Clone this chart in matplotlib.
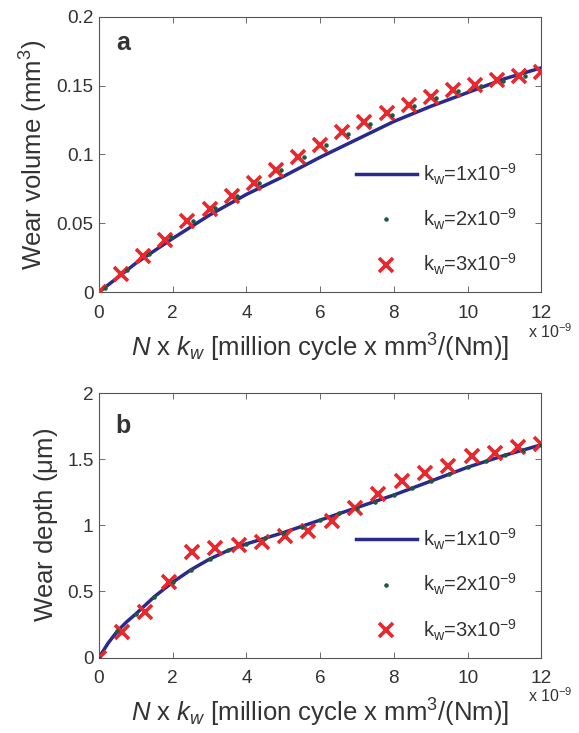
import matplotlib
matplotlib.use("Agg")
import matplotlib.pyplot as plt

plt.rcParams["font.family"] = ["Liberation Sans", "DejaVu Sans"]
plt.rcParams["mathtext.fontset"] = "custom"
plt.rcParams["mathtext.rm"] = "Liberation Sans"
plt.rcParams["mathtext.it"] = "Liberation Sans:italic"
plt.rcParams["mathtext.default"] = "regular"

# x values in units of 1e-9
# panel a: wear volume (mm^3)
line_x_a = [0, 1, 2, 3, 4, 5, 6, 7, 8, 9, 10, 11, 12]
line_y_a = [0, 0.021, 0.039, 0.056, 0.071, 0.084, 0.098, 0.111, 0.124, 0.135, 0.145, 0.155, 0.163]
mark_x_a = [0, 0.6, 1.2, 1.8, 2.4, 3.0, 3.6, 4.2, 4.8, 5.4, 6.0, 6.6, 7.2, 7.8, 8.4, 9.0, 9.6,
            10.2, 10.8, 11.4, 12.0]
kw3_y_a = [0, 0.0135, 0.026, 0.038, 0.052, 0.0605, 0.0695, 0.079, 0.0885, 0.098, 0.107,
           0.116, 0.1235, 0.130, 0.136, 0.142, 0.147, 0.1505, 0.154, 0.157, 0.160]
kw2_x_a = [0.15, 0.75, 1.35, 1.95, 2.55, 3.15, 3.75, 4.35, 4.95, 5.55, 6.15, 6.75, 7.35, 7.95,
           8.55, 9.15, 9.75, 10.35, 10.95, 11.55]
kw2_y_a = [0.003, 0.016, 0.028, 0.040, 0.052, 0.061, 0.070, 0.079, 0.089, 0.098, 0.107,
           0.115, 0.122, 0.129, 0.135, 0.141, 0.146, 0.150, 0.1535, 0.157]

# panel b: wear depth (um)
line_x_b = [0, 0.25, 0.5, 0.75, 1, 1.5, 2, 2.5, 3, 3.5, 4, 5, 6, 7, 8, 9, 10, 11, 12]
line_y_b = [0, 0.11, 0.20, 0.27, 0.33, 0.46, 0.57, 0.665, 0.745, 0.81, 0.86, 0.945, 1.04,
            1.135, 1.23, 1.335, 1.44, 1.53, 1.61]
kw2_x_b = [0, 0.5, 1, 1.5, 2, 2.5, 3, 3.5, 4, 4.5, 5, 5.5, 6, 6.5, 7, 7.5, 8, 8.5, 9, 9.5,
           10, 10.5, 11, 11.5, 12]
kw2_y_b = [0, 0.20, 0.33, 0.46, 0.57, 0.665, 0.745, 0.81, 0.86, 0.905, 0.945, 0.99, 1.04,
           1.09, 1.135, 1.18, 1.23, 1.285, 1.335, 1.39, 1.44, 1.485, 1.53, 1.57, 1.61]
mark_x_b = [0, 0.63, 1.26, 1.89, 2.53, 3.16, 3.79, 4.42, 5.05, 5.68, 6.32, 6.95, 7.58, 8.21,
            8.84, 9.47, 10.11, 10.74, 11.37, 12.0]
kw3_y_b = [0, 0.19, 0.345, 0.575, 0.80, 0.826, 0.85, 0.875, 0.92, 0.957, 1.033, 1.133, 1.241,
           1.334, 1.397, 1.452, 1.528, 1.548, 1.593, 1.618]

labels = [r"k$_w$=1x10$^{-9}$", r"k$_w$=2x10$^{-9}$", r"k$_w$=3x10$^{-9}$"]
BLUE, GREEN, RED, TXT = "#2a2a8e", "#1d5a3c", "#e8282c", "#333333"
xlabel = r"$\it{N}$ x $\it{k}_w$ [million cycle x mm$^3$/(Nm)]"

fig = plt.figure(figsize=(5.79, 7.33), dpi=100)
ax_a = fig.add_axes([0.171, 0.6015, 0.764, 0.3755])
ax_b = fig.add_axes([0.171, 0.1030, 0.764, 0.3605])

panels = [
    (ax_a, line_x_a, line_y_a, kw2_x_a, kw2_y_a, mark_x_a, kw3_y_a,
     r"Wear volume (mm$^3$)", 0.2, [0, 0.05, 0.1, 0.15, 0.2], ["0", "0.05", "0.1", "0.15", "0.2"],
     "a", 0.904),
    (ax_b, line_x_b, line_y_b, kw2_x_b, kw2_y_b, mark_x_b, kw3_y_b,
     r"Wear depth ($\mu$m)", 2, [0, 0.5, 1, 1.5, 2], ["0", "0.5", "1", "1.5", "2"],
     "b", 0.875),
]

for ax, lx, ly, gx, gy, mx, my, ylab, ymax, yt, ytl, tag, tag_y in panels:
    ax.plot(lx, ly, color=BLUE, lw=2.5, label=labels[0], zorder=2)
    ax.plot(mx, my, ls="none", marker="x", ms=10, mew=2.6, color=RED, label=labels[2], zorder=3)
    ax.plot(gx, gy, ls="none", marker=".", ms=4.5, color=GREEN, label=labels[1], zorder=4)
    ax.set_xlim(0, 12)
    ax.set_ylim(0, ymax)
    ax.set_xticks(range(0, 13, 2))
    ax.set_xticklabels([str(v) for v in range(0, 13, 2)])
    ax.set_yticks(yt)
    ax.set_yticklabels(ytl)
    ax.tick_params(direction="in", top=True, right=True, length=4, width=0.6,
                   labelsize=13.7, labelcolor=TXT, colors="#555555")
    ax.tick_params(axis="x", pad=9)
    ax.tick_params(axis="y", pad=4)
    for s in ax.spines.values():
        s.set_color("#555555")
        s.set_linewidth(0.8)
    ax.set_ylabel(ylab, fontsize=18.5, color=TXT, labelpad=5)
    ax.set_xlabel(xlabel, fontsize=18.5, color=TXT, labelpad=7)
    ax.text(0.038, tag_y, tag, transform=ax.transAxes, fontsize=18, fontweight="bold",
            color=TXT, va="center")
    # multiplier label placed under the last tick, MATLAB style
    ax.text(0.97, -0.145, r"x 10$^{-9}$", transform=ax.transAxes, fontsize=11.5, color=TXT,
            ha="left", va="center")
    h, l = ax.get_legend_handles_labels()
    order = [0, 2, 1]
    ax.legend([h[i] for i in order], [l[i] for i in order], loc="lower right",
              bbox_to_anchor=(0.985, -0.012), frameon=False, fontsize=14.5, labelcolor=TXT,
              handlelength=3.0, handletextpad=0.3, labelspacing=1.0, markerscale=1.0)

fig.savefig("out.png", dpi=100)
